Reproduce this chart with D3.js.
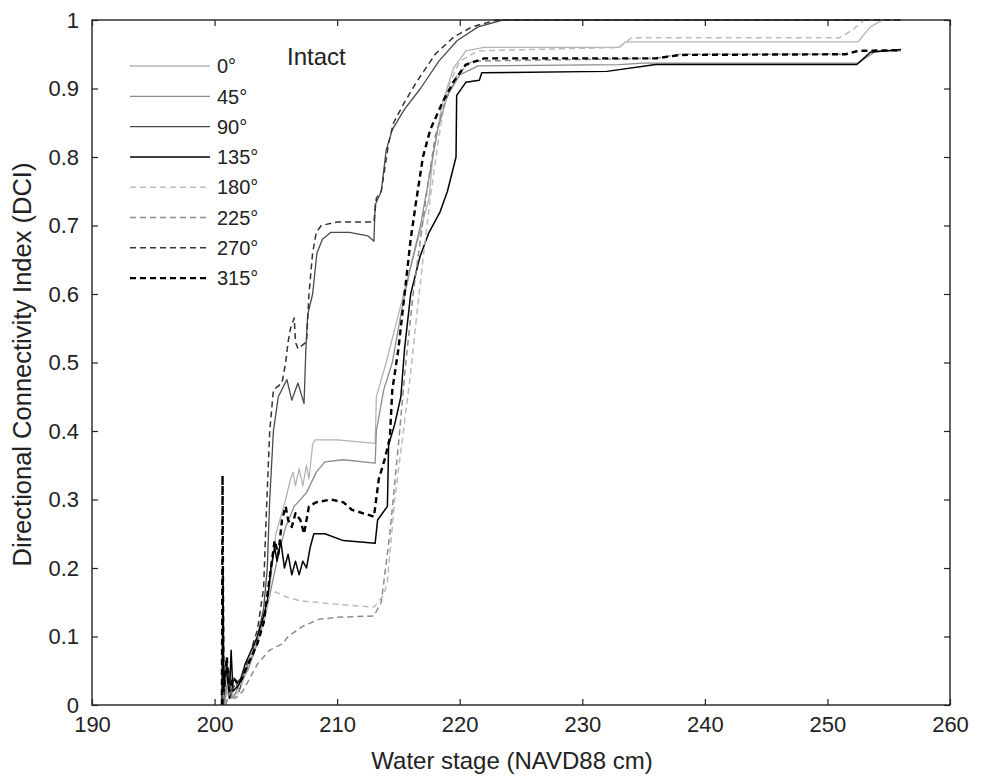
<!DOCTYPE html>
<html>
<head>
<meta charset="utf-8">
<script src="https://cdn.jsdelivr.net/npm/d3@7"></script>
<style>
  body { margin: 0; background: #fff; }
  text { font-family: "Liberation Sans", Arial, sans-serif; }
</style>
</head>
<body>
<svg id="chart"></svg>
<script>
// tick values
const xTicks = [190, 200, 210, 220, 230, 240, 250, 260]
const yTicks = [0, 0.1, 0.2, 0.3, 0.4, 0.5, 0.6, 0.7, 0.8, 0.9, 1]

// angle labels for legend
const angles = ['0°', '45°', '90°', '135°', '180°', '225°', '270°', '315°']

// series: [water stage, DCI]
const dci0 = [[200.8,0],[201.1,0.04],[201.4,0.01],[202,0.02],[202.6,0.05],[203.2,0.08],[203.8,0.11],[204.5,0.17],[205.0,0.25],[205.8,0.3],[206.2,0.33],[206.4,0.34],[206.6,0.32],[206.9,0.345],[207.2,0.32],[207.5,0.35],[207.7,0.33],[208.0,0.38],[208.2,0.387],[210,0.387],[213.1,0.382],[213.2,0.45],[214.0,0.5],[215.0,0.57],[215.7,0.62],[216.6,0.68],[217.5,0.74],[217.8,0.8],[218.6,0.88],[219.5,0.93],[220.5,0.955],[222,0.96],[233,0.96],[233.5,0.968],[252.5,0.968],[253.5,0.99],[254.5,1.0],[256,1.0]]
const dci45 = [[200.8,0],[201.2,0.05],[201.5,0.01],[202,0.03],[202.7,0.05],[203.3,0.08],[204,0.12],[204.5,0.16],[205.2,0.22],[205.8,0.26],[206.5,0.29],[207.5,0.31],[208.3,0.34],[209.0,0.355],[210.5,0.358],[213.1,0.353],[213.2,0.4],[213.8,0.46],[214.5,0.5],[215.3,0.58],[216,0.64],[216.8,0.7],[217.5,0.77],[218.2,0.84],[219,0.89],[220,0.92],[221.5,0.933],[233,0.935],[235,0.937],[252.5,0.937],[254,0.955],[256,0.955]]
const dci90 = [[200.7,0],[201.0,0.05],[201.3,0.01],[201.6,0.04],[202,0.02],[202.5,0.05],[203.0,0.07],[203.5,0.1],[204.0,0.14],[204.3,0.2],[204.5,0.3],[204.8,0.4],[205.2,0.45],[205.9,0.475],[206.3,0.445],[206.8,0.47],[207.3,0.44],[207.45,0.52],[207.6,0.57],[208.0,0.6],[208.35,0.66],[208.8,0.68],[209.5,0.69],[211,0.69],[212.5,0.685],[213.0,0.677],[213.1,0.73],[213.6,0.75],[214.0,0.81],[214.5,0.84],[215.5,0.87],[216.8,0.9],[218.3,0.94],[219.8,0.97],[221.5,0.99],[223.5,1.0],[256,1.0]]
const dci135 = [[200.6,0],[200.69,0.2],[200.75,0.03],[201.0,0.06],[201.2,0.01],[201.35,0.08],[201.5,0.02],[202.0,0.03],[202.5,0.06],[203.0,0.08],[203.5,0.1],[204.0,0.13],[204.3,0.15],[204.6,0.2],[204.9,0.23],[205.1,0.21],[205.4,0.24],[205.7,0.2],[206.0,0.22],[206.3,0.19],[206.6,0.21],[206.9,0.19],[207.2,0.21],[207.5,0.2],[207.8,0.23],[208.1,0.25],[209,0.25],[210.5,0.24],[213.1,0.236],[213.3,0.27],[214.1,0.29],[214.2,0.38],[214.7,0.41],[215.2,0.45],[215.5,0.52],[216.0,0.6],[216.75,0.654],[217.5,0.69],[218.4,0.72],[219.0,0.75],[219.7,0.8],[219.75,0.89],[220.5,0.909],[221.6,0.912],[221.8,0.923],[232,0.925],[236,0.935],[252.4,0.935],[253.5,0.953],[256,0.957]]
const dci180 = [[200.9,0],[201.2,0.03],[201.6,0.01],[202.2,0.03],[202.8,0.06],[203.4,0.09],[204,0.12],[204.5,0.16],[205.0,0.165],[205.8,0.158],[207,0.152],[210,0.147],[213.0,0.143],[213.8,0.16],[214.1,0.18],[214.7,0.3],[215.9,0.47],[216.5,0.57],[217,0.65],[217.6,0.74],[218.3,0.83],[219,0.9],[220,0.94],[221.5,0.955],[233,0.96],[234,0.974],[251,0.974],[252,0.985],[253,1.0],[256,1.0]]
const dci225 = [[200.9,0],[201.3,0.02],[201.7,0.01],[202.3,0.02],[202.9,0.04],[203.5,0.06],[204.5,0.08],[205.6,0.09],[206.0,0.1],[207.2,0.115],[208.5,0.125],[210,0.128],[213.0,0.13],[213.6,0.15],[214.3,0.25],[215,0.38],[215.6,0.5],[216.2,0.6],[216.8,0.68],[217.4,0.76],[218,0.83],[218.8,0.88],[219.8,0.92],[221,0.94],[236,0.944],[238,0.95],[251.5,0.95]]
const dci270 = [[200.7,0],[201.0,0.06],[201.3,0.02],[201.7,0.03],[202.2,0.04],[202.8,0.07],[203.5,0.11],[204.0,0.17],[204.2,0.27],[204.5,0.4],[204.8,0.46],[205.5,0.47],[205.8,0.5],[206.0,0.53],[206.2,0.55],[206.5,0.565],[206.6,0.53],[206.8,0.52],[207.5,0.53],[207.7,0.6],[208.0,0.66],[208.3,0.69],[208.7,0.7],[210,0.705],[213,0.705],[213.2,0.74],[213.6,0.75],[214.2,0.82],[214.6,0.85],[215.5,0.88],[216.5,0.91],[218.0,0.95],[219.5,0.975],[221,0.99],[223,1.0],[256,1.0]]
const dci315 = [[200.6,0],[200.65,0.335],[200.72,0.02],[201.0,0.07],[201.2,0.02],[201.5,0.04],[202.0,0.03],[202.5,0.05],[203.0,0.07],[203.5,0.09],[204.0,0.12],[204.3,0.16],[204.6,0.2],[204.9,0.24],[205.2,0.22],[205.5,0.27],[205.8,0.29],[206.0,0.27],[206.3,0.26],[206.6,0.28],[207.0,0.27],[207.3,0.25],[207.7,0.29],[208.3,0.296],[209.5,0.3],[210.5,0.296],[211.2,0.285],[213.0,0.275],[213.4,0.33],[213.9,0.36],[214.3,0.39],[214.5,0.46],[215.0,0.52],[215.5,0.6],[216.0,0.68],[216.4,0.73],[217.0,0.8],[217.6,0.84],[218.6,0.88],[219.5,0.91],[220.5,0.935],[222,0.944],[236,0.944],[238,0.949],[251.5,0.95],[252.5,0.955],[256,0.956]]

const seriesData = [dci0, dci45, dci90, dci135, dci180, dci225, dci270, dci315]
const seriesColor = ['#b4b4b4', '#8c8c8c', '#4a4a4a', '#000000', '#bcbcbc', '#8c8c8c', '#333333', '#000000']
const seriesDash = [null, null, null, null, '6,4', '6,4', '6,4', '6,4']
const seriesWidth = [1.3, 1.3, 1.3, 1.5, 1.5, 1.5, 1.5, 2.4]

const margin = {top: 20, right: 33, bottom: 73, left: 92}
const width = 983, height = 778
const innerW = width - margin.left - margin.right
const innerH = height - margin.top - margin.bottom

const svg = d3.select('#chart')
    .attr('width', width)
    .attr('height', height)

const chart = svg.append('g')
    .attr('transform', `translate(${margin.left},${margin.top})`)

const xScale = d3.scaleLinear().domain([190, 260]).range([0, innerW])
const yScale = d3.scaleLinear().domain([0, 1]).range([innerH, 0])

const line = d3.line()
    .x(d => xScale(d[0]))
    .y(d => yScale(d[1]))

// curves
chart.append('g').attr('id', 'lines')
    .selectAll('path')
    .data(seriesData)
    .join('path')
    .attr('fill', 'none')
    .attr('stroke', (d, i) => seriesColor[i])
    .attr('stroke-width', (d, i) => seriesWidth[i])
    .attr('stroke-dasharray', (d, i) => seriesDash[i])
    .attr('stroke-linejoin', 'round')
    .attr('d', line)

// axes, ticks pointing inward
const fmt = d => d === 0 ? '0' : d === 1 ? '1' : String(d)
chart.append('g')
    .attr('transform', `translate(0,${innerH})`)
    .call(d3.axisBottom(xScale).tickValues(xTicks).tickSizeInner(-6).tickSizeOuter(0).tickPadding(11))
chart.append('g')
    .call(d3.axisTop(xScale).tickValues(xTicks).tickSizeInner(-6).tickSizeOuter(0).tickFormat(''))
chart.append('g')
    .call(d3.axisLeft(yScale).tickValues(yTicks).tickSizeInner(-6).tickSizeOuter(0).tickPadding(13).tickFormat(fmt))
chart.append('g')
    .attr('transform', `translate(${innerW},0)`)
    .call(d3.axisRight(yScale).tickValues(yTicks).tickSizeInner(-6).tickSizeOuter(0).tickFormat(''))

chart.selectAll('.domain').remove()
chart.selectAll('.tick line').attr('stroke', '#222').attr('stroke-width', 1.2)
chart.selectAll('.tick text').attr('font-size', 22).attr('fill', '#222')

chart.append('rect')
    .attr('width', innerW)
    .attr('height', innerH)
    .attr('fill', 'none')
    .attr('stroke', '#222')
    .attr('stroke-width', 1.4)

// axis titles
svg.append('text')
    .attr('x', 512)
    .attr('y', 769)
    .attr('text-anchor', 'middle')
    .attr('font-size', 24)
    .attr('fill', '#222')
    .text('Water stage (NAVD88 cm)')

svg.append('text')
    .attr('transform', `translate(31,${margin.top + innerH / 2 + 2}) rotate(-90)`)
    .attr('text-anchor', 'middle')
    .attr('font-size', 25.5)
    .attr('fill', '#222')
    .text('Directional Connectivity Index (DCI)')

// legend
const legend = svg.append('g').attr('id', 'legend')
const rows = legend.selectAll('g')
    .data(angles)
    .join('g')
    .attr('transform', (d, i) => `translate(130,${66 + i * 30.3})`)
rows.append('line')
    .attr('x1', 0).attr('x2', 80)
    .attr('stroke', (d, i) => seriesColor[i])
    .attr('stroke-width', (d, i) => seriesWidth[i])
    .attr('stroke-dasharray', (d, i) => seriesDash[i])
rows.append('text')
    .attr('x', 87)
    .attr('dy', '0.36em')
    .attr('font-size', 20)
    .attr('fill', '#222')
    .text(d => d)

svg.append('text')
    .attr('x', 287)
    .attr('y', 65)
    .attr('font-size', 24)
    .attr('fill', '#222')
    .text('Intact')
</script>
</body>
</html>
